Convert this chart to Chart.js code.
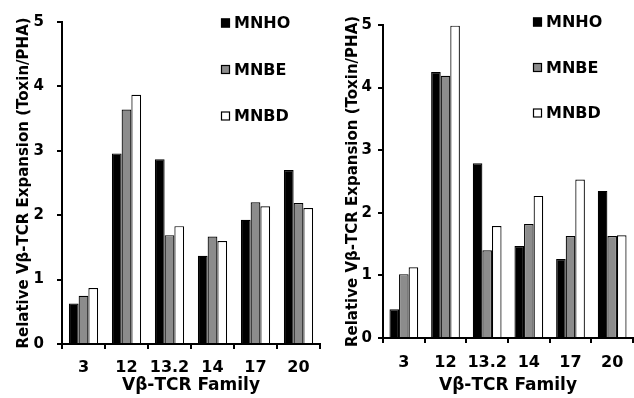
<!DOCTYPE html>
<html>
<head>
<meta charset="utf-8">
<script src="https://cdn.jsdelivr.net/npm/chart.js@4.4.1/dist/chart.umd.min.js"></script>
<style>
  html, body { margin: 0; padding: 0; background: #fff; }
  body { width: 634px; height: 398px; position: relative; overflow: hidden; }
  #wrapL { position: absolute; left: 0; top: 0; width: 322px; height: 398px; }
  #wrapR { position: absolute; left: 322px; top: 0; width: 312px; height: 398px; }
</style>
</head>
<body>
<div id="wrapL"><canvas id="left"></canvas></div>
<div id="wrapR"><canvas id="right"></canvas></div>
<script>
// ---- data ----
const categories = ['3', '12', '13.2', '14', '17', '20'];
const seriesNames = ['MNHO', 'MNBE', 'MNBD'];
const yTicks = [0, 1, 2, 3, 4, 5];

const leftMNHO = [0.63, 2.96, 2.87, 1.37, 1.93, 2.70];
const leftMNBE = [0.75, 3.64, 1.69, 1.67, 2.20, 2.19];
const leftMNBD = [0.87, 3.87, 1.83, 1.60, 2.14, 2.11];

const rightMNHO = [0.46, 4.25, 2.79, 1.47, 1.26, 2.35];
const rightMNBE = [1.02, 4.19, 1.40, 1.82, 1.63, 1.63];
const rightMNBD = [1.13, 4.99, 1.79, 2.27, 2.53, 1.64];

const xTitle = 'V\u03B2-TCR Family';
const yTitle = 'Relative V\u03B2-TCR Expansion (Toxin/PHA)';

// ---- styles ----
const FAMILY = "'DejaVu Sans', 'Liberation Sans', Arial, sans-serif";
const fills = ['#000000', '#8c8c8c', '#ffffff'];

const legendPlugin = {
  id: 'vlegend',
  afterDraw(chart, args, opts) {
    const ctx = chart.ctx;
    ctx.save();
    ctx.font = 'bold ' + opts.size + 'px ' + FAMILY;
    ctx.textBaseline = 'middle';
    ctx.textAlign = 'left';
    chart.data.datasets.forEach((ds, i) => {
      const cy = opts.y + i * opts.gap;
      ctx.fillStyle = ds.backgroundColor;
      ctx.fillRect(opts.x, cy - 4.5, 9, 9);
      ctx.strokeStyle = '#000';
      ctx.lineWidth = 1.2;
      ctx.strokeRect(opts.x + 0.5, cy - 4, 8, 8);
      ctx.fillStyle = '#000';
      ctx.fillText(ds.label, opts.x + 13, cy + 1);
    });
    ctx.restore();
  }
};

function makeChart(id, vals, cfg) {
  const datasets = vals.map((v, i) => ({
    label: seriesNames[i],
    data: v,
    backgroundColor: fills[i],
    borderColor: '#000',
    borderWidth: 1.2,
    borderSkipped: 'bottom',
    barPercentage: 1,
    categoryPercentage: cfg.catPct
  }));
  return new Chart(document.getElementById(id), {
    type: 'bar',
    data: { labels: categories, datasets },
    options: {
      responsive: true,
      maintainAspectRatio: false,
      animation: false,
      events: [],
      layout: { padding: { top: cfg.top, left: cfg.padLeft, right: cfg.padRight, bottom: 0 } },
      plugins: {
        legend: { display: false },
        tooltip: { enabled: false },
        vlegend: cfg.legend
      },
      scales: {
        x: {
          offset: true,
          grid: { display: true, drawOnChartArea: false, offset: true, tickLength: 5, color: '#000', lineWidth: 2 },
          border: { display: true, color: '#000', width: 2 },
          ticks: { color: '#000', font: { family: FAMILY, weight: 'bold', size: cfg.xTickSize }, padding: cfg.xTickPad, maxRotation: 0, autoSkip: false },
          title: { display: true, text: xTitle, color: '#000', font: { family: FAMILY, weight: 'bold', size: 17 }, padding: { top: 0, bottom: cfg.xTitlePad } },
          afterFit(s) { s.height = cfg.xHeight; }
        },
        y: {
          min: 0, max: 5,
          afterBuildTicks(s) { s.ticks = yTicks.map(v => ({ value: v })); },
          grid: { display: true, drawOnChartArea: false, tickLength: 5, color: '#000', lineWidth: 2 },
          border: { display: true, color: '#000', width: 2 },
          ticks: { color: '#000', font: { family: FAMILY, weight: 'bold', size: 15 }, padding: cfg.yTickPad },
          title: { display: true, text: yTitle, color: '#000', font: { family: FAMILY, weight: 'bold', size: 15 }, padding: { top: 0, bottom: 0 } },
          afterFit(s) { s.width = cfg.yWidth; }
        }
      }
    },
    plugins: [legendPlugin]
  });
}

makeChart('left', [leftMNHO, leftMNBE, leftMNBD], {
  catPct: 0.68, top: 20, padLeft: 15, padRight: 2, yWidth: 47, xHeight: 54,
  xTickSize: 16, xTickPad: 9, xTitlePad: 2, yTickPad: 13,
  legend: { x: 221, y: 23, gap: 46.5, size: 16 }
});
makeChart('right', [rightMNHO, rightMNBE, rightMNBD], {
  catPct: 0.69, top: 25, padLeft: 22, padRight: 1, yWidth: 39, xHeight: 60,
  xTickSize: 16, xTickPad: 10, xTitlePad: 2, yTickPad: 6,
  legend: { x: 211, y: 22, gap: 45.5, size: 16 }
});
</script>
</body>
</html>
